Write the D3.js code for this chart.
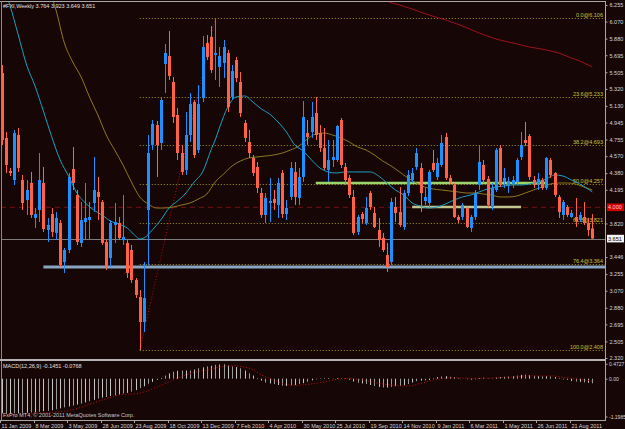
<!DOCTYPE html>
<html><head><meta charset="utf-8">
<script src="https://cdn.jsdelivr.net/npm/d3@7"></script>
<style>html,body{margin:0;padding:0;background:#170606;} svg{display:block;}</style>
</head><body>
<script>
const titleText = "#FXI,Weekly  3.764 3.923 3.649 3.651";
const macdTitle = "MACD(12,26,9) -0.1451 -0.0768";
const copyright = "FxPro MT4, \u00a9 2001-2011 MetaQuotes Software Corp.";

const opens = [5.497,4.773,4.405,4.304,4.806,4.304,4.081,4.271,3.881,3.970,4.271,3.747,3.925,3.714,3.825,3.390,3.524,4.427,4.137,3.602,3.836,3.858,4.048,4.171,4.059,3.613,3.435,3.803,3.825,3.635,3.602,3.524,3.190,3.000,2.721,3.970,4.695,4.917,4.717,5.598,5.687,5.397,5.029,4.605,4.416,4.806,5.174,4.639,5.218,5.832,5.899,5.698,5.564,5.609,5.720,5.230,5.642,5.397,4.940,4.728,4.550,4.449,4.159,3.914,4.048,4.093,4.026,4.382,3.925,4.115,4.394,4.104,4.338,4.828,4.839,5.051,4.828,4.661,4.416,4.527,4.527,4.973,4.449,4.327,4.115,3.725,3.925,3.825,4.159,3.936,3.747,3.658,3.468,3.390,4.003,3.948,3.780,4.159,4.304,4.449,4.438,4.070,4.048,4.494,4.338,4.472,4.784,4.327,4.249,3.892,3.892,3.992,3.769,3.892,4.249,4.472,4.316,4.003,4.193,4.661,4.282,4.249,4.260,4.282,4.561,4.750,4.795,4.304,4.249,4.304,4.215,4.527,4.382,4.115,3.914,4.003,3.892,3.892,3.858,3.892,3.825,3.764];
const highs = [5.586,4.839,4.438,4.862,4.884,4.360,4.304,4.394,3.992,4.605,4.449,3.881,3.992,3.948,3.858,3.546,4.382,4.672,4.193,4.059,4.271,4.059,4.561,4.338,4.081,3.635,3.858,4.048,3.892,4.137,3.635,3.580,3.212,3.078,3.390,4.806,4.973,4.962,5.230,5.820,5.965,5.453,5.107,4.695,5.062,5.274,5.196,5.363,5.910,5.921,6.021,6.106,5.787,5.865,5.754,5.586,5.676,5.508,4.973,4.862,4.583,4.505,4.215,4.159,4.327,4.193,4.327,4.416,4.081,4.505,4.505,4.438,5.185,4.973,5.174,5.230,4.917,4.884,4.750,4.750,4.917,4.996,4.494,4.360,4.193,3.914,3.948,4.115,4.182,4.003,3.881,3.714,3.602,4.104,4.115,4.226,4.193,4.416,4.438,4.661,4.494,4.215,4.416,4.639,4.550,4.806,4.828,4.360,4.271,3.914,4.048,4.003,3.914,4.193,4.695,4.527,4.349,4.271,4.661,4.695,4.438,4.338,4.349,4.550,4.839,4.951,4.817,4.349,4.382,4.327,4.561,4.550,4.394,4.137,4.081,4.026,3.970,4.104,3.948,4.059,3.881,3.923];
const lows = [4.695,4.382,4.349,4.249,4.394,3.970,3.914,3.881,3.769,3.836,3.725,3.613,3.669,3.635,3.334,3.268,3.490,4.193,3.580,3.557,3.635,3.635,3.948,3.858,3.580,3.301,3.334,3.602,3.635,3.580,3.212,3.156,2.989,2.409,2.610,3.357,4.639,4.338,4.639,5.274,5.419,4.940,4.527,4.360,4.360,4.728,4.550,4.605,5.174,5.642,5.497,5.419,5.341,5.441,5.062,5.196,5.397,5.007,4.728,4.550,4.349,4.159,3.881,3.825,3.836,3.970,3.881,3.881,3.858,4.081,4.026,4.026,4.282,4.695,4.773,4.750,4.617,4.416,4.282,4.449,4.505,4.438,4.249,4.104,3.691,3.691,3.825,3.803,3.970,3.769,3.557,3.502,3.279,3.357,3.836,3.780,3.747,4.126,4.271,4.416,3.948,4.026,4.003,4.394,4.304,4.449,4.304,4.260,3.881,3.825,3.858,3.769,3.725,3.858,4.193,4.271,4.003,3.970,4.171,4.226,4.215,4.159,4.215,4.249,4.527,4.683,4.304,4.215,4.193,4.193,4.193,4.327,4.115,3.881,3.858,3.892,3.881,3.780,3.836,3.803,3.680,3.649];
const closes = [4.750,4.472,4.382,4.828,4.438,4.048,4.193,3.914,3.925,4.304,3.758,3.803,3.725,3.881,3.357,3.524,4.338,4.271,3.613,3.858,3.881,3.892,4.193,4.115,3.602,3.334,3.825,3.836,3.658,3.669,3.268,3.190,3.022,2.721,2.989,4.605,4.929,4.695,5.196,5.720,5.464,5.007,4.605,4.394,4.806,5.152,4.583,5.152,5.787,5.676,5.531,5.720,5.687,5.787,5.118,5.519,5.441,5.051,4.773,4.605,4.382,4.215,3.914,4.104,4.070,4.048,4.271,3.925,3.992,4.438,4.115,4.338,5.007,4.784,5.007,4.806,4.661,4.438,4.527,4.561,4.906,4.472,4.304,4.137,3.714,3.892,3.870,3.992,4.003,3.780,3.635,3.524,3.334,4.059,3.936,3.803,4.159,4.360,4.382,4.605,4.159,4.115,4.394,4.416,4.494,4.717,4.327,4.282,3.892,3.858,4.026,3.780,3.892,4.159,4.505,4.304,4.026,4.215,4.639,4.249,4.327,4.293,4.304,4.527,4.695,4.717,4.338,4.249,4.316,4.215,4.550,4.360,4.137,3.948,4.059,3.914,3.936,3.847,3.914,3.825,3.747,3.651];

// moving averages: [bar index, price]
const maCyan = [[1,6.40],[2,6.255],[4,5.921],[6,5.586],[8,5.352],[10,5.073],[12,4.784],[14,4.527],[16,4.349],[18,4.159],[20,4.048],[22,3.970],[24,3.914],[26,3.847],[28,3.814],[30,3.769],[32,3.680],[33,3.647],[34,3.658],[36,3.747],[38,3.858],[40,3.992],[42,4.070],[44,4.159],[46,4.282],[48,4.394],[50,4.639],[51,4.750],[52,4.884],[54,5.118],[56,5.230],[58,5.241],[60,5.174],[62,5.096],[64,5.040],[66,4.951],[68,4.839],[70,4.695],[72,4.627],[74,4.527],[76,4.438],[78,4.394],[80,4.382],[82,4.394],[84,4.394],[86,4.394],[88,4.394],[90,4.349],[92,4.271],[94,4.193],[96,4.137],[98,4.048],[100,4.014],[102,3.992],[104,4.003],[106,4.037],[108,4.081],[110,4.115],[112,4.137],[114,4.171],[116,4.204],[118,4.226],[120,4.238],[122,4.249],[124,4.249],[126,4.260],[128,4.282],[130,4.316],[132,4.360],[134,4.349],[136,4.304],[138,4.260],[140,4.204],[141,4.171]];
const maOlive = [[12,6.344],[13,6.199],[15,5.832],[17,5.620],[19,5.453],[21,5.230],[23,5.029],[25,4.806],[27,4.639],[29,4.472],[31,4.282],[33,4.115],[35,4.037],[37,3.992],[39,3.992],[41,4.003],[43,4.026],[45,4.048],[47,4.093],[49,4.148],[51,4.282],[53,4.371],[55,4.460],[57,4.516],[59,4.550],[61,4.561],[63,4.572],[65,4.583],[67,4.605],[69,4.639],[71,4.683],[73,4.761],[75,4.817],[77,4.828],[79,4.806],[81,4.773],[83,4.728],[85,4.672],[87,4.639],[89,4.583],[91,4.516],[93,4.460],[95,4.394],[97,4.327],[99,4.271],[101,4.226],[103,4.204],[105,4.193],[107,4.182],[109,4.171],[111,4.159],[113,4.159],[115,4.148],[117,4.137],[119,4.115],[121,4.115],[123,4.126],[125,4.159],[127,4.193],[129,4.226],[131,4.260],[133,4.271],[135,4.271],[137,4.260],[139,4.226],[141,4.193]];
const maRed = [[91,6.333],[92,6.300],[95,6.255],[98,6.210],[102,6.144],[106,6.088],[110,6.021],[114,5.943],[118,5.876],[122,5.832],[126,5.787],[130,5.754],[133,5.720],[136,5.664],[138,5.631],[140,5.586],[141,5.564]];

const macdMain = [-1.10,-1.11,-1.11,-1.10,-1.10,-1.09,-1.08,-1.07,-1.06,-1.05,-1.03,-1.02,-1.00,-0.97,-0.94,-0.91,-0.88,-0.85,-0.82,-0.79,-0.75,-0.71,-0.67,-0.63,-0.60,-0.58,-0.55,-0.53,-0.50,-0.47,-0.45,-0.41,-0.36,-0.30,-0.24,-0.16,-0.10,-0.04,0.02,0.10,0.17,0.22,0.25,0.26,0.26,0.26,0.29,0.33,0.36,0.39,0.41,0.44,0.45,0.46,0.42,0.39,0.37,0.33,0.26,0.17,0.10,0.02,-0.06,-0.12,-0.15,-0.17,-0.20,-0.22,-0.23,-0.21,-0.20,-0.17,-0.14,-0.10,-0.05,-0.02,0.01,0.02,0.02,0.01,0.02,0.01,-0.01,-0.04,-0.09,-0.13,-0.15,-0.17,-0.20,-0.23,-0.26,-0.28,-0.28,-0.26,-0.24,-0.23,-0.21,-0.17,-0.12,-0.08,-0.06,-0.05,-0.04,0.02,0.05,0.07,0.08,0.06,0.04,0.02,0.00,-0.02,-0.03,-0.02,0.02,0.03,0.01,0.01,0.03,0.05,0.06,0.07,0.08,0.10,0.12,0.13,0.11,0.09,0.08,0.07,0.08,0.07,0.05,0.02,-0.02,-0.04,-0.07,-0.09,-0.10,-0.12,-0.13,-0.1451];
const macdSignal = [[0,-1.19],[8,-1.10],[16,-1.01],[24,-0.68],[28,-0.52],[33,-0.46],[37,-0.27],[41,-0.04],[44,0.12],[47,0.23],[50,0.30],[52,0.37],[55,0.41],[58,0.37],[60,0.28],[62,0.12],[65,-0.04],[67,-0.15],[70,-0.21],[73,-0.18],[77,-0.10],[80,-0.02],[83,0.01],[86,-0.04],[90,-0.15],[93,-0.20],[97,-0.23],[100,-0.15],[104,-0.02],[108,0.03],[113,0.01],[118,0.03],[123,0.06],[126,0.09],[131,0.09],[134,0.05],[138,-0.02],[141,-0.0768]];

const dateLabels = ["11 Jan 2009","8 Mar 2009","3 May 2009","28 Jun 2009","23 Aug 2009","18 Oct 2009","13 Dec 2009","7 Feb 2010","4 Apr 2010","30 May 2010","25 Jul 2010","19 Sep 2010","14 Nov 2010","9 Jan 2011","6 Mar 2011","1 May 2011","26 Jun 2011","21 Aug 2011"];
const dateIndex = [0,8,16,24,32,40,48,56,64,72,80,88,96,104,112,120,128,136];
const priceTicks = ["6.255","6.070","5.880","5.695","5.505","5.320","5.130","4.945","4.755","4.570","4.380","4.195","3.820","3.446","3.255","3.070","2.880","2.695","2.505","2.320"];
const macdTicks = ["0.4727","0.00","-1.1985"];

const fibNames = ["0.0","23.6","38.2","50.0","61.8","76.4","100.0"];
const fibPrices = [6.106,5.233,4.693,4.257,3.821,3.364,2.408];
const fibAnchor = [33, 51];   // low bar, high bar

const lineLevel = 4.000;   // red dashed
const bidPrice = 3.651;
const blueLine = {from: 10, price: 3.334};
const greenLine = {from: 75, to: 130, price: 4.271};
const khakiLine = {from: 98, to: 124, price: 4.003};

const W = 625, H = 429;
const axisX = 605;
const FONT = "'Liberation Sans', Arial, sans-serif";
const svg = d3.select("body").append("svg").attr("width", W).attr("height", H)
  .style("font-family", FONT);
svg.append("rect").attr("width", W).attr("height", H).attr("fill", "#170606");

const x = d3.scaleLinear().domain([0, 141]).range([1.5, 592.3]);
const y = d3.scaleLinear().domain([2.320, 6.255]).range([358, 5]);
const ym = d3.scaleLinear().domain([-1.1985, 0.4727]).range([416.5, 363.8]);

const defs = svg.append("defs");
defs.append("clipPath").attr("id", "cm").append("rect").attr("x", 1).attr("y", 2).attr("width", axisX - 1).attr("height", 357);
defs.append("clipPath").attr("id", "cd").append("rect").attr("x", 1).attr("y", 361).attr("width", axisX - 1).attr("height", 58);

const main = svg.append("g").attr("clip-path", "url(#cm)");

// fib lines
const fx0 = x(fibAnchor[0]);
fibPrices.forEach((p, k) => {
  main.append("line").attr("x1", fx0).attr("x2", axisX).attr("y1", Math.round(y(p)) + 0.5).attr("y2", Math.round(y(p)) + 0.5)
    .attr("stroke", "#a89c22").attr("stroke-width", 1).attr("stroke-dasharray", "1,2");
  main.append("text").attr("x", axisX - 2).attr("y", y(p) - 1).attr("text-anchor", "end")
    .attr("font-size", 5.5).attr("fill", "#c8c43a").text(fibNames[k] + "@" + p.toFixed(3));
});
// fib diagonal
main.append("line").attr("x1", x(fibAnchor[0])).attr("y1", y(lows[fibAnchor[0]]))
  .attr("x2", x(fibAnchor[1])).attr("y2", y(highs[fibAnchor[1]]))
  .attr("stroke", "#b01010").attr("stroke-width", 1).attr("stroke-dasharray", "1,2");

// horizontal levels
main.append("line").attr("x1", 1).attr("x2", axisX).attr("y1", y(lineLevel)).attr("y2", y(lineLevel))
  .attr("stroke", "#7a1010").attr("stroke-width", 1).attr("stroke-dasharray", "5,4");
main.append("line").attr("x1", 1).attr("x2", axisX).attr("y1", Math.round(y(bidPrice)) + 0.5).attr("y2", Math.round(y(bidPrice)) + 0.5)
  .attr("stroke", "#7c7c7c").attr("stroke-width", 1);
main.append("line").attr("x1", x(blueLine.from)).attr("x2", axisX).attr("y1", y(blueLine.price)).attr("y2", y(blueLine.price))
  .attr("stroke", "#8aa5c0").attr("stroke-width", 3);
main.append("line").attr("x1", x(greenLine.from)).attr("x2", x(greenLine.to)).attr("y1", y(greenLine.price)).attr("y2", y(greenLine.price))
  .attr("stroke", "#9ad46a").attr("stroke-width", 2.5);
main.append("line").attr("x1", x(khakiLine.from)).attr("x2", x(khakiLine.to)).attr("y1", y(khakiLine.price)).attr("y2", y(khakiLine.price))
  .attr("stroke", "#c2c68e").attr("stroke-width", 2.5);

// moving averages
const lineGen = d3.line().x(d => x(d[0])).y(d => y(d[1])).curve(d3.curveMonotoneX);
main.append("path").attr("d", lineGen(maOlive)).attr("fill", "none").attr("stroke", "#8c7a1e").attr("stroke-width", 1);
main.append("path").attr("d", lineGen(maCyan)).attr("fill", "none").attr("stroke", "#1c9fc2").attr("stroke-width", 1);
main.append("path").attr("d", lineGen(maRed)).attr("fill", "none").attr("stroke", "#a0101c").attr("stroke-width", 1);

// candles
const bull = "#1e90ff", bear = "#ff6347";
const idx = d3.range(opens.length);
main.selectAll("line.wick").data(idx).join("line").attr("class", "wick")
  .attr("x1", i => Math.round(x(i)) + 0.5).attr("x2", i => Math.round(x(i)) + 0.5)
  .attr("y1", i => y(highs[i])).attr("y2", i => y(lows[i]))
  .attr("stroke", i => closes[i] >= opens[i] ? bull : bear).attr("stroke-width", 1);
main.selectAll("rect.body").data(idx).join("rect").attr("class", "body")
  .attr("x", i => Math.round(x(i)) - 1)
  .attr("width", 3)
  .attr("y", i => y(Math.max(opens[i], closes[i])))
  .attr("height", i => Math.max(1, Math.abs(y(opens[i]) - y(closes[i]))))
  .attr("fill", i => closes[i] >= opens[i] ? bull : bear);

// MACD panel
const md = svg.append("g").attr("clip-path", "url(#cd)");
md.selectAll("line.h").data(idx).join("line").attr("class", "h")
  .attr("x1", i => Math.round(x(i)) + 0.5).attr("x2", i => Math.round(x(i)) + 0.5)
  .attr("y1", ym(0)).attr("y2", i => ym(macdMain[i]))
  .attr("stroke", (i) => i % 2 ? "#9a9a9a" : "#c4c4c4").attr("stroke-width", 1);
const sigGen = d3.line().x(d => x(d[0])).y(d => ym(d[1])).curve(d3.curveMonotoneX);
md.append("path").attr("d", sigGen(macdSignal)).attr("fill", "none").attr("stroke", "#c01010")
  .attr("stroke-width", 1).attr("stroke-dasharray", "1,2");

// frames
const frame = "#a8a8a8";
svg.append("line").attr("x1", 0).attr("x2", axisX).attr("y1", 1.5).attr("y2", 1.5).attr("stroke", frame);
svg.append("line").attr("x1", 1.5).attr("x2", 1.5).attr("y1", 1).attr("y2", 420).attr("stroke", "#8a8a8a");
svg.append("line").attr("x1", axisX + 0.5).attr("x2", axisX + 0.5).attr("y1", 1).attr("y2", 421).attr("stroke", frame);
svg.append("rect").attr("x", 0).attr("y", 359).attr("width", axisX + 1).attr("height", 2).attr("fill", "#b4b4b4");
svg.append("line").attr("x1", 0).attr("x2", axisX).attr("y1", 420.5).attr("y2", 420.5).attr("stroke", frame);

// price axis
const txt = "#d8d8d8";
const yAxis = d3.axisRight(y).tickValues(priceTicks.map(Number)).tickFormat((d, k) => priceTicks[k]).tickSize(2).tickPadding(2);
const ga = svg.append("g").attr("transform", `translate(${axisX + 0.5},0)`).call(yAxis);
ga.select(".domain").remove();
ga.selectAll("line").attr("stroke", frame);
ga.selectAll("text").attr("fill", txt).attr("font-size", 5.5).attr("font-family", FONT);

// boxes on price axis
svg.append("rect").attr("x", axisX + 2).attr("y", y(lineLevel) - 3.8).attr("width", 17).attr("height", 7.6).attr("fill", "#d40000");
svg.append("text").attr("x", axisX + 3).attr("y", y(lineLevel) + 2).attr("font-size", 5.5).attr("fill", "#ffd0d0").text(lineLevel.toFixed(3));
svg.append("rect").attr("x", axisX + 2).attr("y", y(bidPrice) - 3.8).attr("width", 17).attr("height", 7.6).attr("fill", "#f4f4f4");
svg.append("text").attr("x", axisX + 3).attr("y", y(bidPrice) + 2).attr("font-size", 5.5).attr("fill", "#000").text(bidPrice.toFixed(3));

// MACD axis
const mAxis = d3.axisRight(ym).tickValues(macdTicks.map(Number)).tickFormat((d, k) => macdTicks[k]).tickSize(2).tickPadding(1.5);
const gm = svg.append("g").attr("transform", `translate(${axisX + 0.5},0)`).call(mAxis);
gm.select(".domain").remove();
gm.selectAll("line").attr("stroke", frame);
gm.selectAll("text").attr("fill", txt).attr("font-size", 5).attr("font-family", FONT);

// date axis
const gd = svg.append("g");
dateIndex.forEach((di, k) => {
  const xx = Math.round(x(di) - 1.5) + 0.5;
  gd.append("line").attr("x1", xx).attr("x2", xx).attr("y1", 420).attr("y2", 423).attr("stroke", frame);
  gd.append("text").attr("x", xx + 1).attr("y", 427.5).attr("font-size", 5.5).attr("fill", txt).text(dateLabels[k]);
});

// titles
svg.append("text").attr("x", 3).attr("y", 8).attr("font-size", 5.5).attr("fill", "#e0e0e0").text(titleText);
svg.append("text").attr("x", 3).attr("y", 368).attr("font-size", 5.5).attr("fill", "#e0e0e0").text(macdTitle);
svg.append("text").attr("x", 3).attr("y", 417).attr("font-size", 5.5).attr("fill", "#c8c8c8").text(copyright);
</script>
</body></html>
